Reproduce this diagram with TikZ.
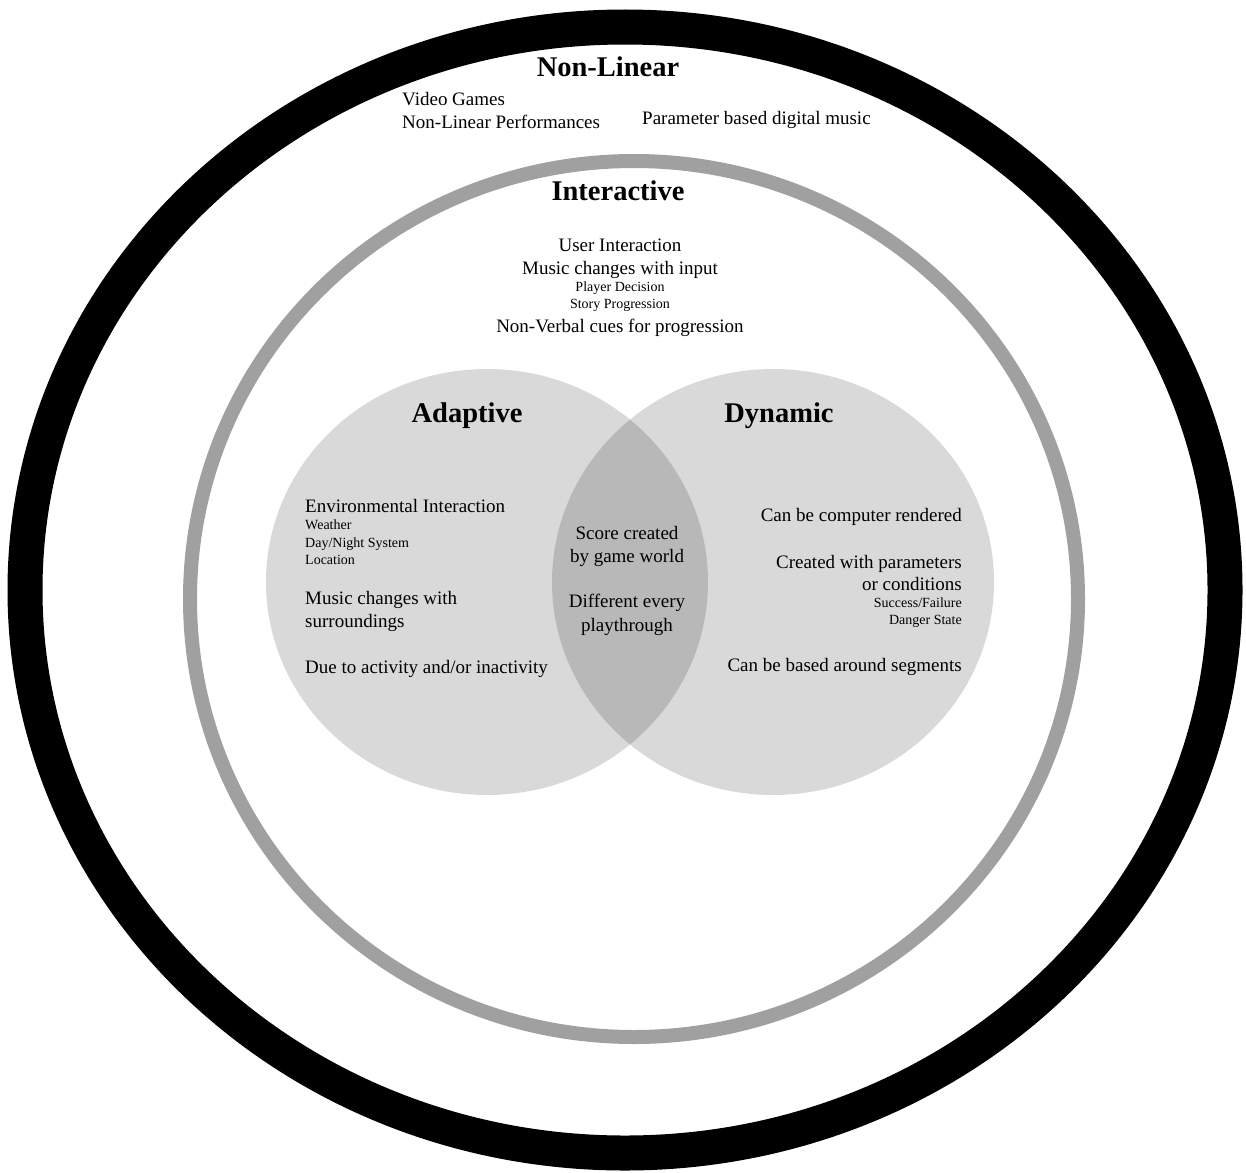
\documentclass[tikz,border=0pt]{standalone}
\usepackage{fontspec}
\setmainfont{Liberation Serif}
\begin{document}
\begin{tikzpicture}[x=1pt,y=-1pt,
  title/.style={font=\fontsize{28.5}{34}\selectfont\bfseries, inner sep=0pt},
  body/.style={font=\fontsize{19}{23}\selectfont, inner sep=0pt},
  small/.style={font=\fontsize{14}{17}\selectfont, inner sep=0pt},
  ringouter/.style={draw=black, line width=35pt},
  ringinner/.style={draw=ringgray, line width=14pt},
  setfill/.style={fill=black, fill opacity=0.15}]
\definecolor{ringgray}{RGB}{160,160,160}
\useasboundingbox[fill=white] (0,0) rectangle (1246,1172);

% rings
\path[ringouter] (625,590) ellipse [x radius=600, y radius=563];
\path[ringinner] (634,599) ellipse [x radius=444, y radius=438];

% venn circles
\path[setfill] (487,582) ellipse [x radius=221, y radius=213];
\path[setfill] (773,582) ellipse [x radius=221, y radius=213];

% Non-Linear
\node[title, anchor=base] (nonlinear) at (608,77) {Non-Linear};
\node[body, anchor=base west] (videogames) at (402,105.5) {Video Games};
\node[body, anchor=base west] (nlperf) at (402,128.5) {Non-Linear Performances};
\node[body, anchor=base west] (parambased) at (642,124.5) {Parameter based digital music};

% Interactive
\node[title, anchor=base] (interactive) at (618,200) {Interactive};
\node[body, anchor=base] (userint) at (620,251.5) {User Interaction};
\node[body, anchor=base] (musicinput) at (620,274) {Music changes with input};
\node[small, anchor=base] (playerdec) at (620,291.5) {Player Decision};
\node[small, anchor=base] (storyprog) at (620,308.5) {Story Progression};
\node[body, anchor=base] (nonverbal) at (620,332) {Non-Verbal cues for progression};

% Adaptive
\node[title, anchor=base] (adaptive) at (467,422) {Adaptive};
\node[body, anchor=base west] (envint) at (305,512) {Environmental Interaction};
\node[small, anchor=base west] (weather) at (305,529.5) {Weather};
\node[small, anchor=base west] (daynight) at (305,547.5) {Day/Night System};
\node[small, anchor=base west] (location) at (305,564.5) {Location};
\node[body, anchor=base west] (musicsurr1) at (305,604) {Music changes with};
\node[body, anchor=base west] (musicsurr2) at (305,627) {surroundings};
\node[body, anchor=base west] (dueto) at (305,673) {Due to activity and/or inactivity};

% Overlap
\node[body, anchor=base] (score1) at (627,539) {Score created};
\node[body, anchor=base] (score2) at (627,562) {by game world};
\node[body, anchor=base] (diff1) at (627,607) {Different every};
\node[body, anchor=base] (diff2) at (627,631) {playthrough};

% Dynamic
\node[title, anchor=base] (dynamic) at (779,422) {Dynamic};
\node[body, anchor=base east] (computer) at (962,521) {Can be computer rendered};
\node[body, anchor=base east] (created1) at (962,568) {Created with parameters};
\node[body, anchor=base east] (created2) at (962,590) {or conditions};
\node[small, anchor=base east] (success) at (962,607.5) {Success/Failure};
\node[small, anchor=base east] (danger) at (962,624.5) {Danger State};
\node[body, anchor=base east] (segments) at (962,671) {Can be based around segments};
\end{tikzpicture}
\end{document}
